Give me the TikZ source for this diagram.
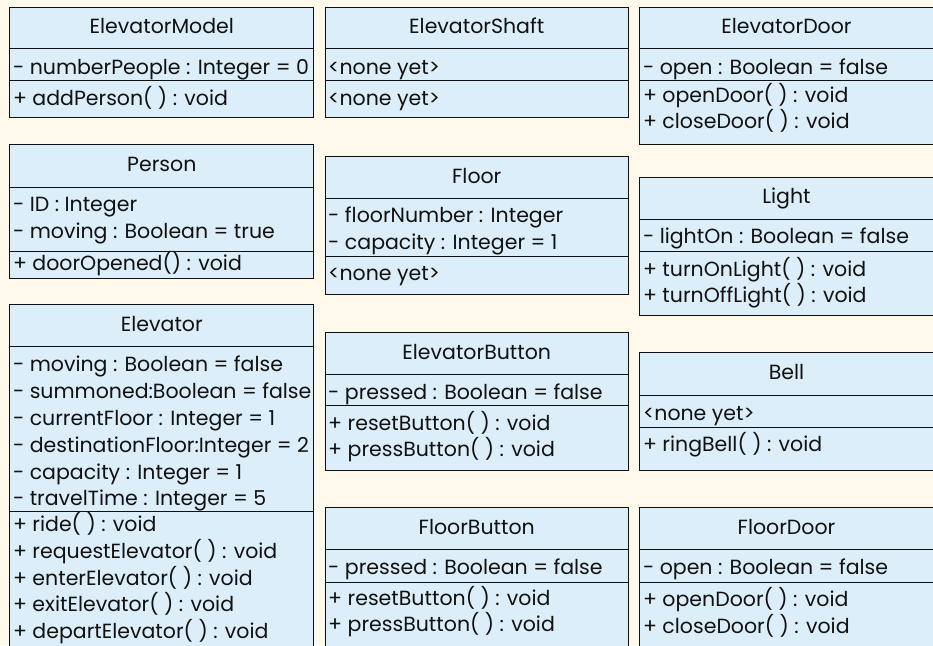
\documentclass[tikz,border=0pt]{standalone}
\usepackage{fontspec}
\setmainfont{Poppins}
\definecolor{bgcol}{HTML}{FEF9EA}
\definecolor{boxcol}{HTML}{DCEEFA}
\definecolor{linecol}{HTML}{111111}
\newcommand\txtfont{\fontsize{20.5}{20.5}\selectfont}
\tikzset{
  classbox/.style={draw=linecol, fill=boxcol, line width=1pt, inner sep=0pt, anchor=north west, rectangle},
  sepline/.style={draw=linecol, line width=1pt},
  title/.style={anchor=base, inner sep=0pt, font=\txtfont, text=linecol},
  member/.style={anchor=base west, inner sep=0pt, font=\txtfont, text=linecol}
}
\newcommand\seps[3]{% name, sep1, sep2
  \draw[sepline] (#1.west |- 0,#2) -- (#1.east |- 0,#2);
  \draw[sepline] (#1.west |- 0,#3) -- (#1.east |- 0,#3);}
\begin{document}
\begin{tikzpicture}[x=1pt,y=-1pt]
\useasboundingbox (0,0) rectangle (933,645);
\clip (0,0) rectangle (933,645);
\fill[bgcol] (0,0) rectangle (933,645);

% ---------- ElevatorModel ----------
\node[classbox, minimum width=304pt, minimum height=110.6pt] (em) at (9.3,6.7) {};
\seps{em}{48}{80}
\node[title] (em-t) at (em.north |- 0,33.4) {ElevatorModel};
\node[member] (em-a1) at (12.8,74) {- numberPeople : Integer = 0};
\node[member] (em-m1) at (12.8,105) {+ addPerson( ) : void};

% ---------- ElevatorShaft ----------
\node[classbox, minimum width=303.5pt, minimum height=110.6pt] (es) at (324.5,6.7) {};
\seps{es}{48}{80}
\node[title] (es-t) at (es.north |- 0,33.4) {ElevatorShaft};
\node[member] (es-a1) at (328,74) {<none yet>};
\node[member] (es-m1) at (328,105) {<none yet>};

% ---------- ElevatorDoor ----------
\node[classbox, minimum width=311pt, minimum height=137.3pt] (ed) at (639.3,6.7) {};
\seps{ed}{48}{80}
\node[title] (ed-t) at (786.5,33.4) {ElevatorDoor};
\node[member] (ed-a1) at (642.8,74) {- open : Boolean = false};
\node[member] (ed-m1) at (642.8,102.5) {+ openDoor( ) : void};
\node[member] (ed-m2) at (642.8,128.5) {+ closeDoor( ) : void};

% ---------- Person ----------
\node[classbox, minimum width=304pt, minimum height=134pt] (pe) at (9.3,144.3) {};
\seps{pe}{187.3}{251.3}
\node[title] (pe-t) at (pe.north |- 0,171.5) {Person};
\node[member] (pe-a1) at (12.8,211.7) {- ID : Integer};
\node[member] (pe-a2) at (12.8,238.3) {- moving : Boolean = true};
\node[member] (pe-m1) at (12.8,270) {+ doorOpened() : void};

% ---------- Floor ----------
\node[classbox, minimum width=303.5pt, minimum height=138.3pt] (fl) at (324.5,155.7) {};
\seps{fl}{198.3}{256.7}
\node[title] (fl-t) at (fl.north |- 0,183) {Floor};
\node[member] (fl-a1) at (328,222.3) {- floorNumber : Integer};
\node[member] (fl-a2) at (328,249.3) {- capacity : Integer = 1};
\node[member] (fl-m1) at (328,280.7) {<none yet>};

% ---------- Light ----------
\node[classbox, minimum width=311pt, minimum height=138.3pt] (li) at (639.3,176.7) {};
\seps{li}{219.3}{251.3}
\node[title] (li-t) at (786.5,203.5) {Light};
\node[member] (li-a1) at (642.8,243.3) {- lightOn : Boolean = false};
\node[member] (li-m1) at (642.8,276) {+ turnOnLight( ) : void};
\node[member] (li-m2) at (642.8,302.7) {+ turnOffLight( ) : void};

% ---------- Elevator ----------
\node[classbox, minimum width=304pt, minimum height=355.7pt] (el) at (9.3,304.3) {};
\seps{el}{346}{511.7}
\node[title] (el-t) at (el.north |- 0,331) {Elevator};
\node[member] (el-a1) at (12.8,371.7) {- moving : Boolean = false};
\node[member] (el-a2) at (12.8,398.3) {- summoned:Boolean = false};
\node[member] (el-a3) at (12.8,425.7) {- currentFloor : Integer = 1};
\node[member] (el-a4) at (12.8,452.3) {- destinationFloor:Integer = 2};
\node[member] (el-a5) at (12.8,479) {- capacity : Integer = 1};
\node[member] (el-a6) at (12.8,505) {- travelTime : Integer = 5};
\node[member] (el-m1) at (12.8,531.7) {+ ride( ) : void};
\node[member] (el-m2) at (12.8,558.3) {+ requestElevator( ) : void};
\node[member] (el-m3) at (12.8,585.7) {+ enterElevator( ) : void};
\node[member] (el-m4) at (12.8,611.7) {+ exitElevator( ) : void};
\node[member] (el-m5) at (12.8,638.3) {+ departElevator( ) : void};

% ---------- ElevatorButton ----------
\node[classbox, minimum width=303.5pt, minimum height=138.3pt] (eb) at (324.5,331.7) {};
\seps{eb}{374.3}{405.7}
\node[title] (eb-t) at (eb.north |- 0,359) {ElevatorButton};
\node[member] (eb-a1) at (328,399) {- pressed : Boolean = false};
\node[member] (eb-m1) at (328,430.7) {+ resetButton( ) : void};
\node[member] (eb-m2) at (328,456.7) {+ pressButton( ) : void};

% ---------- Bell ----------
\node[classbox, minimum width=311pt, minimum height=117.7pt] (be) at (639.3,352.3) {};
\seps{be}{395}{427.3}
\node[title] (be-t) at (786.5,379.7) {Bell};
\node[member] (be-a1) at (642.8,420) {<none yet>};
\node[member] (be-m1) at (642.8,451.7) {+ ringBell( ) : void};

% ---------- FloorButton ----------
\node[classbox, minimum width=303.5pt, minimum height=152.7pt] (fb) at (324.5,507.3) {};
\seps{fb}{549.3}{582.3}
\node[title] (fb-t) at (fb.north |- 0,534.3) {FloorButton};
\node[member] (fb-a1) at (328,574) {- pressed : Boolean = false};
\node[member] (fb-m1) at (328,605.7) {+ resetButton( ) : void};
\node[member] (fb-m2) at (328,631.7) {+ pressButton( ) : void};

% ---------- FloorDoor ----------
\node[classbox, minimum width=311pt, minimum height=152.7pt] (fd) at (639.3,507.3) {};
\seps{fd}{549.3}{582.3}
\node[title] (fd-t) at (786.5,534.3) {FloorDoor};
\node[member] (fd-a1) at (642.8,574) {- open : Boolean = false};
\node[member] (fd-m1) at (642.8,606.7) {+ openDoor( ) : void};
\node[member] (fd-m2) at (642.8,633.3) {+ closeDoor( ) : void};
\end{tikzpicture}
\end{document}
